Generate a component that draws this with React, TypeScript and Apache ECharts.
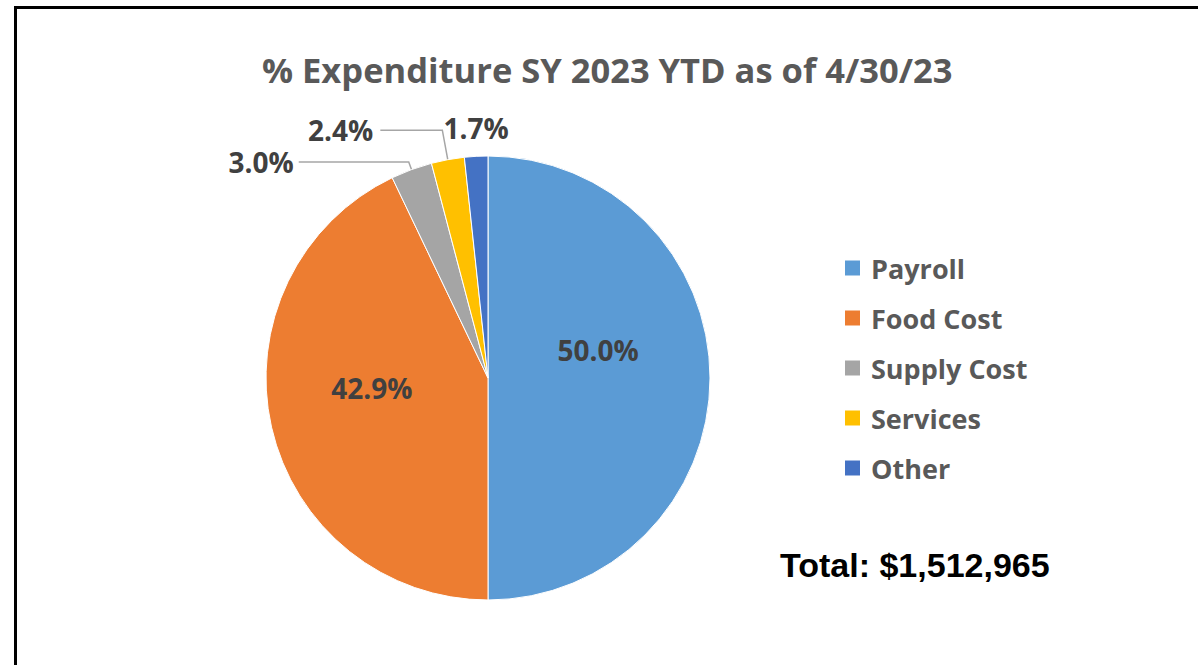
import React, { useEffect, useRef } from "react";
import * as echarts from "echarts";

const titleText = "% Expenditure SY 2023 YTD as of 4/30/23";
const categories = ["Payroll", "Food Cost", "Supply Cost", "Services", "Other"];
const values = [50.0, 42.9, 3.0, 2.4, 1.7];
const colors = ["#5B9BD5", "#ED7D31", "#A5A5A5", "#FFC000", "#4472C4"];
const totalLabel = "Total: $1,512,965";

const FONT = "'Open Sans', 'Noto Sans', sans-serif";

// label placement tweaks (style only)
const labelSpecs = [
  { position: "inside", length: 0, length2: 0, line: false, dx: -4, dy: -28 },
  { position: "inside", length: 0, length2: 0, line: false, dx: -5, dy: -15 },
  { position: "outside", length: 8, length2: 110, line: true, dx: 0, dy: 0 },
  { position: "outside", length: 30, length2: 62, line: true, dx: -2, dy: 0 },
  { position: "outside", length: 28, length2: 0, line: false, dx: 39, dy: 0 },
];

export default function App() {
  const ref = useRef<HTMLDivElement>(null);
  useEffect(() => {
    if (!ref.current) return;
    const chart = echarts.init(ref.current, null, { renderer: "svg" });
    const data = categories.map((name, i) => ({
      name,
      value: values[i],
      itemStyle: { color: colors[i] },
      label: { position: labelSpecs[i].position },
      labelLine: {
        show: labelSpecs[i].line,
        length: labelSpecs[i].length,
        length2: labelSpecs[i].length2,
      },
    }));
    chart.setOption({
      animation: false,
      backgroundColor: "#ffffff",
      title: {
        text: titleText,
        left: 257,
        top: 47,
        textStyle: {
          fontFamily: FONT,
          fontSize: 34.5,
          fontWeight: "bold",
          color: "#595959",
        },
      },
      legend: {
        orient: "vertical",
        left: 838,
        top: 248,
        itemWidth: 17,
        itemHeight: 17,
        itemGap: 20,
        icon: "rect",
        data: categories,
        textStyle: {
          fontFamily: FONT,
          fontSize: 27,
          fontWeight: "bold",
          color: "#595959",
          lineHeight: 30,
          padding: [0, 0, 0, 5],
        },
      },
      graphic: [
        {
          type: "rect",
          shape: { x: 15.5, y: 7.5, width: 1400, height: 900 },
          style: { fill: "none", stroke: "#000", lineWidth: 3 },
          silent: true,
        },
        {
          type: "text",
          x: 780,
          y: 565,
          style: {
            text: totalLabel,
            fontFamily: "'Liberation Sans', Arial, sans-serif",
            fontSize: 34,
            fontWeight: "bold",
            fill: "#000",
            verticalAlign: "middle",
          },
        },
      ],
      series: [
        {
          type: "pie",
          center: [488, 378],
          radius: 222,
          startAngle: 90,
          clockwise: true,
          avoidLabelOverlap: false,
          itemStyle: { borderColor: "#ffffff", borderWidth: 1 },
          label: {
            show: true,
            formatter: (p: any) => `${Number(p.value).toFixed(1)}%`,
            fontFamily: FONT,
            fontSize: 28,
            fontWeight: "bold",
            color: "#404040",
          },
          labelLine: {
            lineStyle: { color: "#A6A6A6", width: 1.5 },
          },
          labelLayout: (params: any) => {
            const s = labelSpecs[params.dataIndex];
            return { dx: s.dx, dy: s.dy };
          },
          emphasis: { disabled: true },
          data,
        },
      ],
    });
    return () => chart.dispose();
  }, []);
  return (
    <div
      ref={ref}
      style={{ position: "absolute", left: 0, top: 0, width: 1198, height: 665 }}
    />
  );
}
